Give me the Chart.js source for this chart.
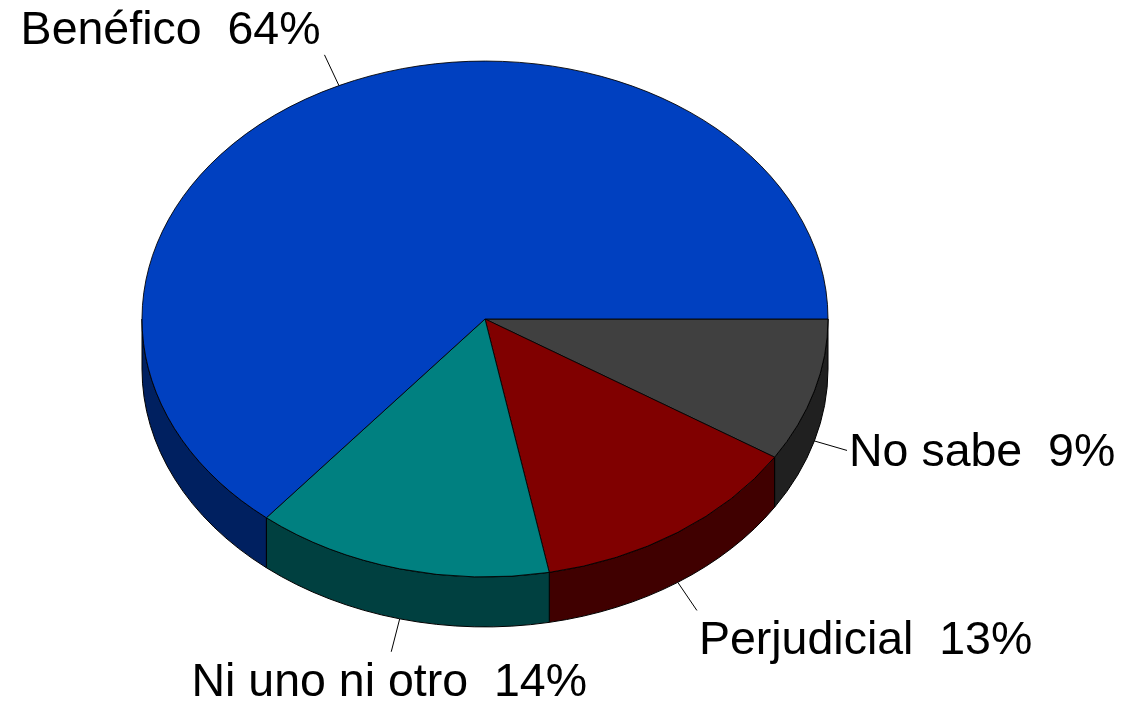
<head><meta charset="utf-8"></head>
<body style="margin:0; background:#fff;">
    <script src="https://cdn.jsdelivr.net/npm/chart.js/dist/chart.umd.min.js"></script>
    <div id="chartDiv" style="width:1127px; height:703px; position:relative;">
    <canvas id="chartContainer"></canvas>
    </div>

<script>
    // data (clockwise from 3 o'clock)
    const categories = ['No sabe', 'Perjudicial', 'Ni uno ni otro', 'Benéfico'];
    const percentages = [9, 13, 14, 64];

    // look
    const topColors = ['#404040', '#800000', '#008080', '#0040C0'];
    const sideColors = ['#202020', '#400000', '#004040', '#002060'];
    const TILT = 0.752;      // vertical squash of the pie
    const DEPTH = 50;        // thickness of the 3d side
    const CENTER_Y = 319;    // where the squashed pie sits
    const LEADER = 34;       // leader line length
    const LABEL_FONT = '46.5px "Liberation Sans", Arial, sans-serif';

    function geometry(chart) {
        const arc = chart.getDatasetMeta(0).data[0];
        return { cx: arc.x, cy: CENTER_Y, rx: arc.outerRadius, ry: arc.outerRadius * TILT, srcY: arc.y };
    }

    const pie3d = {
        id: 'pie3d',
        beforeDatasetsDraw(chart) {
            const ctx = chart.ctx;
            const g = geometry(chart);
            const arcs = chart.getDatasetMeta(0).data;
            // side walls, only the front half (0..PI) can be seen
            ctx.save();
            ctx.lineWidth = 1;
            ctx.strokeStyle = '#000';
            arcs.forEach((a, i) => {
                const s = Math.max(a.startAngle, 0);
                const e = Math.min(a.endAngle, Math.PI);
                if (e <= s) return;
                ctx.beginPath();
                ctx.ellipse(g.cx, g.cy, g.rx, g.ry, 0, s, e, false);
                ctx.ellipse(g.cx, g.cy + DEPTH, g.rx, g.ry, 0, e, s, true);
                ctx.closePath();
                ctx.fillStyle = sideColors[i];
                ctx.fill();
                ctx.stroke();
            });
            ctx.restore();
            // squash the top face
            ctx.save();
            ctx.translate(0, g.cy);
            ctx.scale(1, TILT);
            ctx.translate(0, -g.srcY);
        },
        afterDatasetsDraw(chart) {
            const ctx = chart.ctx;
            ctx.restore();
            const g = geometry(chart);
            const arcs = chart.getDatasetMeta(0).data;
            ctx.save();
            ctx.font = LABEL_FONT;
            ctx.fillStyle = '#000';
            ctx.strokeStyle = '#000';
            ctx.lineWidth = 1;
            arcs.forEach((a, i) => {
                const m = (a.startAngle + a.endAngle) / 2;
                const c = Math.cos(m), s = Math.sin(m);
                const x0 = g.cx + g.rx * c;
                const y0 = g.cy + g.ry * s + (s > 0 ? DEPTH : 0);
                const x1 = x0 + LEADER * c;
                const y1 = y0 + LEADER * s;
                ctx.beginPath();
                ctx.moveTo(x0, y0);
                ctx.lineTo(x1, y1);
                ctx.stroke();

                const text = categories[i] + '  ' + percentages[i] + '%';
                let tx = x1, ty;
                if (c > 0.4) { ctx.textAlign = 'left'; tx += 2; }
                else if (c < -0.4) { ctx.textAlign = 'right'; tx -= 4; }
                else { ctx.textAlign = 'center'; tx -= 2; }
                ctx.textBaseline = 'alphabetic';
                if (s > 0.4) ty = y1 + 11 + 33;
                else if (s < -0.4) ty = y1 - 11;
                else ty = y1 + 16;
                ctx.fillText(text, tx, ty);
            });
            ctx.restore();
        }
    };

    window.onload = function() {
        const chart = new Chart('chartContainer', {
            type: 'pie',
            data: {
                labels: categories,
                datasets: [{
                    data: percentages,
                    backgroundColor: topColors,
                    borderColor: '#000',
                    borderWidth: 1,
                    clip: false,
                }],
            },
            options: {
                responsive: true,
                maintainAspectRatio: false,
                animation: false,
                events: [],
                rotation: 90,
                radius: 343,
                layout: { padding: { left: 142, right: 299, top: 0, bottom: 17 } },
                plugins: {
                    legend: { display: false },
                    tooltip: { enabled: false },
                },
            },
            plugins: [pie3d],
        });
    };
</script>
</body>
